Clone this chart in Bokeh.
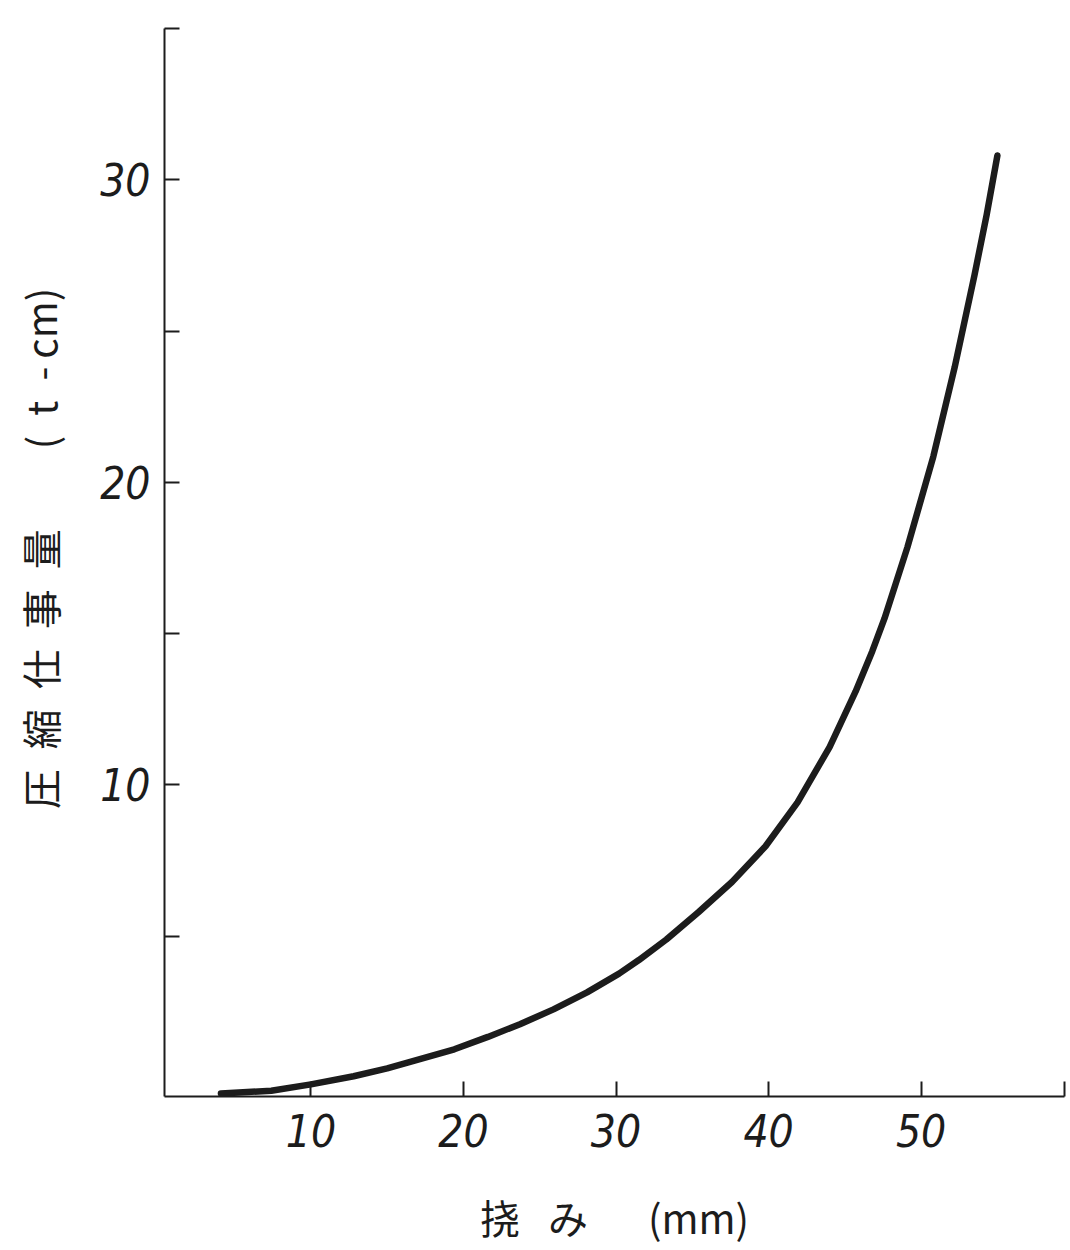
from bokeh.plotting import figure
from bokeh.models import FixedTicker, Range1d
from bokeh.embed import file_html
from bokeh.resources import INLINE

# ---- data ----
deflection_mm = [4.1, 7.4, 10.0, 12.8, 15.0, 17.2, 19.4, 21.6, 23.7, 25.9, 28.1, 30.2,
                 31.5, 33.3, 35.4, 37.6, 39.8, 41.9, 44.0, 45.7, 46.8, 47.6, 49.1,
                 50.8, 52.2, 53.5, 54.3, 55.0]
work_tcm = [-0.2, -0.11, 0.10, 0.37, 0.63, 0.94, 1.26, 1.67, 2.09, 2.58, 3.14, 3.76,
            4.21, 4.89, 5.79, 6.79, 7.97, 9.42, 11.25, 13.08, 14.42, 15.5, 17.85,
            20.85, 23.8, 26.85, 28.85, 30.8]

x_ticks = [10, 20, 30, 40, 50, 59.4]
x_tick_labels = {10: "10", 20: "20", 30: "30", 40: "40", 50: "50", 59.4: ""}
y_ticks = [5, 10, 15, 20, 25, 30, 35]
y_tick_labels = {5: "", 10: "10", 15: "", 20: "20", 25: "", 30: "30", 35: ""}

x_label = "挠\u2002\u2009み\u2003\u2002(mm)"
y_label = ("\u2002\u2009圧\u2002縮\u2002仕\u2002事\u2002量\u2003\u2003"
           "(\u2002t\u2002-\u2009cm)")

ink = "#1c1c1c"
tick_font = "'DejaVu Sans Condensed', 'Liberation Sans Narrow', Roboto, sans-serif"

p = figure(width=1066, height=1250, output_backend="svg", toolbar_location=None,
           x_range=Range1d(0.4, 59.4), y_range=Range1d(-0.3, 35.0),
           min_border_left=164, min_border_right=2, min_border_top=28,
           min_border_bottom=154)

p.line(deflection_mm, work_tcm, line_width=6.5, line_color=ink,
       line_cap="round", line_join="round")

p.grid.visible = False
p.outline_line_color = None
p.background_fill_color = "white"
p.border_fill_color = "white"

for ax in (p.xaxis[0], p.yaxis[0]):
    ax.axis_line_width = 2
    ax.axis_line_color = ink
    ax.major_tick_line_color = ink
    ax.major_tick_line_width = 2
    ax.major_tick_in = 15
    ax.major_tick_out = 0
    ax.minor_tick_line_color = None
    ax.major_label_text_font = tick_font
    ax.major_label_text_font_style = "italic"
    ax.major_label_text_font_size = "44px"
    ax.major_label_text_color = ink
    ax.axis_label_text_font = "Noto Sans CJK JP"
    ax.axis_label_text_font_style = "normal"
    ax.axis_label_text_font_size = "40px"
    ax.axis_label_text_color = ink

p.xaxis.ticker = FixedTicker(ticks=x_ticks)
p.xaxis.major_label_overrides = x_tick_labels
p.xaxis.major_label_standoff = 17
p.xaxis.axis_label = x_label
p.xaxis.axis_label_standoff = 38

p.yaxis.ticker = FixedTicker(ticks=y_ticks)
p.yaxis.major_label_overrides = y_tick_labels
p.yaxis.major_label_standoff = 14
p.yaxis.major_label_orientation = "horizontal"
p.yaxis.axis_label = y_label
p.yaxis.axis_label_standoff = 28

open("out.html", "w").write(file_html(p, INLINE))
